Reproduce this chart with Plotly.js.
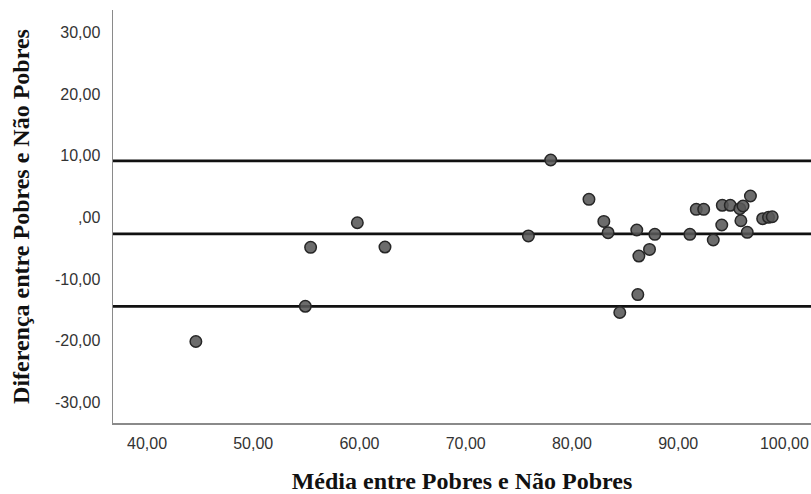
<!DOCTYPE html>
<html>
<head>
<meta charset="utf-8">
<script src="https://cdn.plot.ly/plotly-3.0.1.min.js"></script>
<style>html,body{margin:0;padding:0;background:#fff;}#chart{width:811px;height:494px;}</style>
</head>
<body>
<div id="chart"></div>
<script>
// Bland-Altman data: mean between groups (x) and difference (y)
const mediaValues = [44.6, 54.9, 55.4, 59.8, 62.4, 75.9, 78.0,
  81.6, 83.0, 83.4, 84.5, 86.1, 86.2, 86.3, 87.3, 87.8, 91.1, 91.7, 92.4, 93.3,
  94.1, 94.15, 94.9, 95.8, 96.1, 96.8, 95.9, 96.5, 97.95, 98.5, 98.85];
const diferencaValues = [-20.1, -14.4, -4.85, -0.86, -4.8, -3.0, 9.3,
  2.93, -0.64, -2.47, -15.4, -2.04, -12.5, -6.26, -5.18, -2.74, -2.74, 1.31, 1.31, -3.66,
  -1.23, 1.96, 1.96, 1.41, 1.85, 3.47, -0.54, -2.42, -0.21, 0.02, 0.11];

const meanDiff = -2.65;
const upperLimit = 9.15;
const lowerLimit = -14.4;

const xTickVals = [40, 50, 60, 70, 80, 90, 100];
const xTickLabels = ["40,00", "50,00", "60,00", "70,00", "80,00", "90,00", "100,00"];
const yTickVals = [-30, -20, -10, 0, 10, 20, 30];
const yTickLabels = ["-30,00", "-20,00", "-10,00", ",00", "10,00", "20,00", "30,00"];

const xTitle = "Média entre Pobres e Não Pobres";
const yTitle = "Diferença entre Pobres e Não Pobres";

const trace = {
  x: mediaValues,
  y: diferencaValues,
  type: 'scatter',
  mode: 'markers',
  marker: {size: 11.5, color: 'rgba(88,88,88,0.88)', line: {color: '#262626', width: 1.5}},
  hoverinfo: 'skip'
};

function hline(v) {
  return {type: 'line', xref: 'paper', x0: 0, x1: 1, yref: 'y', y0: v, y1: v,
    line: {color: '#111', width: 2.8}, layer: 'below'};
}

const tickFont = {family: 'Liberation Sans, Arial, sans-serif', size: 16, color: '#333'};
const titleFont = {family: 'Liberation Serif, Times New Roman, serif', size: 24, color: '#111', weight: 'bold'};

const layout = {
  width: 811, height: 494,
  margin: {l: 113, r: 0, t: 10, b: 71, pad: 0},
  paper_bgcolor: '#fff', plot_bgcolor: '#fff',
  showlegend: false,
  xaxis: {
    range: [36.8, 102.5], tickvals: xTickVals, ticktext: xTickLabels,
    showgrid: false, zeroline: false, showline: true, linecolor: '#8a8a8a', linewidth: 1.5,
    ticks: 'outside', ticklen: 5, tickcolor: 'rgba(0,0,0,0)',
    tickfont: tickFont,
    title: {text: xTitle, font: titleFont, standoff: 21}
  },
  yaxis: {
    range: [-33.3, 33.6], tickvals: yTickVals, ticktext: yTickLabels,
    showgrid: false, zeroline: false, showline: true, linecolor: '#8a8a8a', linewidth: 1.5,
    ticks: 'outside', ticklen: 8, tickcolor: 'rgba(0,0,0,0)',
    tickfont: tickFont,
    title: {text: yTitle, font: titleFont, standoff: 18}
  },
  shapes: [hline(upperLimit), hline(meanDiff), hline(lowerLimit)]
};

Plotly.newPlot('chart', [trace], layout, {displayModeBar: false, staticPlot: true});
</script>
</body>
</html>
